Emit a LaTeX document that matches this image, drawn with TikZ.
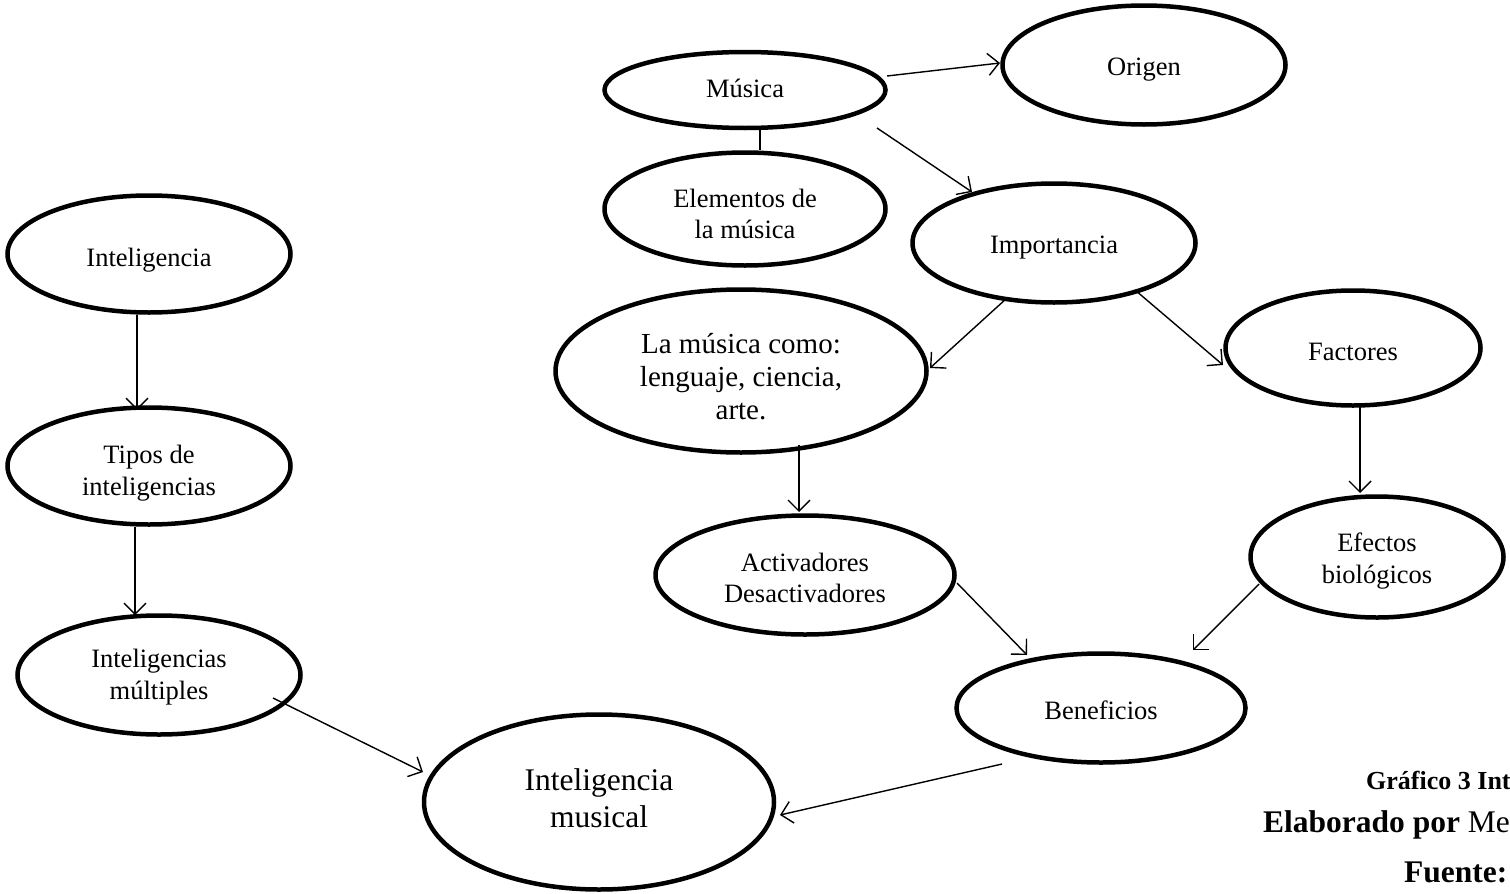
\documentclass[tikz,border=0pt]{standalone}
\usepackage{fontspec}
\setmainfont{Liberation Serif}
\usetikzlibrary{shapes.geometric,arrows.meta}
\begin{document}
\begin{tikzpicture}[x=1pt,y=-1pt,
  oval/.style={ellipse,draw,line width=4.5pt,inner sep=0pt},
  txt/.style={align=center,inner sep=0pt,font=\fontsize{26.5}{31.5}\selectfont},
  conn/.style={line width=1.4pt,-{Straight Barb[length=11pt,width=22pt]}},
  plain/.style={line width=1.6pt},
  captext/.style={anchor=base west,inner sep=0pt}]
\useasboundingbox (0,0) rectangle (1510,894);
% nodes
\node[oval,minimum width=281pt,minimum height=76pt,
  label={[txt,yshift=2pt]center:Música}] (musica) at (745,90) {};
\node[oval,minimum width=283pt,minimum height=119pt,
  label={[txt,yshift=-5pt]center:Origen}] (origen) at (1144,65) {};
\node[oval,minimum width=281pt,minimum height=113pt,
  label={[txt,yshift=-5pt]center:{Elementos de\\la música}}] (elementos) at (745,209) {};
\node[oval,minimum width=283pt,minimum height=119pt,
  label={[txt,yshift=-5pt]center:Importancia}] (importancia) at (1054,243) {};
\node[oval,minimum width=283pt,minimum height=117pt,
  label={[txt,yshift=-6pt]center:Inteligencia}] (inteligencia) at (149,254) {};
\node[oval,minimum width=371pt,minimum height=163pt,
  label={[txt,font=\fontsize{29}{33}\selectfont,yshift=-6pt]center:{La música como:\\lenguaje, ciencia,\\arte.}}] (lamusica) at (741,371) {};
\node[oval,minimum width=255pt,minimum height=115pt,
  label={[txt,yshift=-4pt]center:Factores}] (factores) at (1353,348) {};
\node[oval,minimum width=283pt,minimum height=117pt,
  label={[txt,yshift=-7pt]center:{Tipos de\\inteligencias}}] (tipos) at (149,466) {};
\node[oval,minimum width=299pt,minimum height=119pt,
  label={[txt,yshift=-3pt]center:{Activadores\\Desactivadores}}] (activadores) at (805,575) {};
\node[oval,minimum width=253pt,minimum height=121pt,
  label={[txt,yshift=-4pt]center:{Efectos\\biológicos}}] (efectos) at (1377,557) {};
\node[oval,minimum width=283pt,minimum height=119pt,
  label={[txt,yshift=-2pt]center:{Inteligencias\\múltiples}}] (multiples) at (159,675) {};
\node[oval,minimum width=289pt,minimum height=109pt,
  label={[txt,yshift=-2pt]center:Beneficios}] (beneficios) at (1101,708) {};
\node[oval,minimum width=350pt,minimum height=175pt,
  label={[txt,font=\fontsize{31.5}{37}\selectfont,yshift=4pt]center:{Inteligencia\\musical}}] (musical) at (599,802) {};
% captions
\node[captext,font=\bfseries\fontsize{26}{30}\selectfont] (grafico) at (1366,789) {Gráfico 3 Int};
\node[captext,font=\fontsize{31.5}{34}\selectfont] (elaborado) at (1263,832) {\textbf{Elaborado por} Me};
\node[captext,font=\bfseries\fontsize{31.5}{34}\selectfont] (fuente) at (1404,882) {Fuente:};
% connectors
\draw[plain] ([xshift=15pt]musica.south) -- ([xshift=15pt]elementos.north);
\draw[conn] ([xshift=142pt,yshift=14pt]musica.center) -- ([xshift=-144pt,yshift=2pt]origen.center);
\draw[conn] ([xshift=132pt,yshift=-38pt]musica.center) -- ([xshift=-82pt,yshift=51pt]importancia.center);
\draw[conn] ([xshift=-47pt,yshift=-55pt]importancia.center) -- ([xshift=189pt,yshift=3pt]lamusica.center);
\draw[conn] ([xshift=81pt,yshift=-47pt]importancia.center) -- ([xshift=-130pt,yshift=-17pt]factores.center);
\draw[conn] ([xshift=-12pt,yshift=-61pt]inteligencia.center) -- ([xshift=-12pt,yshift=56pt]tipos.center);
\draw[conn] ([xshift=-14pt,yshift=-61pt]tipos.center) -- ([xshift=-24pt,yshift=60pt]multiples.center);
\draw[conn] ([xshift=58pt,yshift=-74pt]lamusica.center) -- ([xshift=-6pt,yshift=63pt]activadores.center);
\draw[conn] ([xshift=7pt,yshift=-57pt]factores.center) -- ([xshift=-17pt,yshift=64pt]efectos.center);
\draw[conn] ([xshift=152pt,yshift=-8pt]activadores.center) -- ([xshift=-74pt,yshift=53pt]beneficios.center);
\draw[conn] ([xshift=-118pt,yshift=-27pt]efectos.center) -- ([xshift=92pt,yshift=58pt]beneficios.center);
\draw[conn] ([xshift=114pt,yshift=-23pt]multiples.center) -- ([xshift=-176pt,yshift=30pt]musical.center);
\draw[conn] ([xshift=-99pt,yshift=-56pt]beneficios.center) -- ([xshift=181pt,yshift=-13pt]musical.center);
\end{tikzpicture}
\end{document}
